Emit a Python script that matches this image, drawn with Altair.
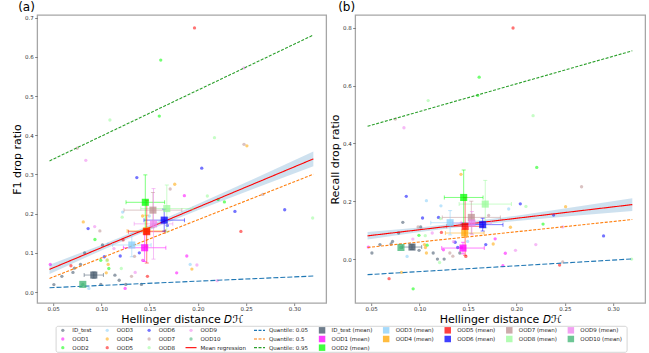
import altair as alt
import pandas as pd

FONT = "DejaVu Sans"

# ---------------- data ----------------
groups = ["ID_test", "OOD1", "OOD2", "OOD3", "OOD4", "OOD5", "OOD6", "OOD7", "OOD8", "OOD9", "OOD10"]
group_colors = ["#3d5166", "#ff00ff", "#00ff00", "#87cefa", "#ffa500", "#ff0000",
                "#0000ff", "#bc8f8f", "#98fb98", "#ee82ee", "#3cb371"]

pts_x = {
    "ID_test": [0.0507, 0.0590, 0.0705, 0.0720, 0.0783, 0.0826, 0.0994, 0.1011, 0.1140, 0.1184, 0.1253, 0.1415],
    "OOD1": [0.0470, 0.1246, 0.1430, 0.1780, 0.1860, 0.1885],
    "OOD2": [0.0933, 0.0993, 0.1077, 0.1615, 0.1600, 0.2210, 0.2275],
    "OOD3": [0.0870, 0.1070, 0.1220, 0.1920, 0.1496],
    "OOD4": [0.0812, 0.1050, 0.1060, 0.1070, 0.1427, 0.1760, 0.1938, 0.2508],
    "OOD5": [0.0684, 0.1225, 0.1477, 0.1965, 0.2446],
    "OOD6": [0.0862, 0.1030, 0.1195, 0.1367, 0.1393, 0.1683, 0.2040, 0.2384, 0.2900],
    "OOD7": [0.0749, 0.0984, 0.1312, 0.1343, 0.1713, 0.2478, 0.2673],
    "OOD8": [0.1088, 0.1058, 0.1206, 0.1215, 0.2172, 0.2098, 0.3190],
    "OOD9": [0.0838, 0.0930, 0.1130, 0.1350, 0.1430, 0.1990, 0.2200, 0.2478],
    "OOD10": [0.0807],
}
pts_f1 = {
    "ID_test": [0.019, 0.040, 0.050, 0.061, 0.0705, 0.100, 0.0195, 0.120, 0.043, 0.030, 0.0195, 0.0195],
    "OOD1": [0.0705, 0.0093, 0.081, 0.049, 0.246, 0.092],
    "OOD2": [0.134, 0.081, 0.060, 0.592, 0.449, 0.236, 0.230],
    "OOD3": [0.0093, 0.122, 0.204, 0.0705, 0.194],
    "OOD4": [0.179, 0.049, 0.082, 0.0705, 0.194, 0.275, 0.0586, 0.373],
    "OOD5": [0.067, 0.133, 0.040, 0.674, 0.1546],
    "OOD6": [0.162, 0.090, 0.092, 0.292, 0.100, 0.170, 0.316, 0.2056, 0.2099],
    "OOD7": [0.367, 0.156, 0.040, 0.091, 0.263, 0.377, 0.249],
    "OOD8": [0.439, 0.080, 0.060, 0.191, 0.394, 0.245, 0.189],
    "OOD9": [0.336, 0.167, 0.111, 0.050, 0.081, 0.069, 0.029, 0.572],
    "OOD10": [0.0195],
}
pts_rec = {
    "ID_test": [0.021, 0.050, 0.052, 0.061, 0.090, 0.127, 0.030, 0.111, 0.021, 0.0, 0.0, 0.021],
    "OOD1": [0.0415, 0.032, 0.040, 0.070, -0.023, 0.020],
    "OOD2": [-0.103, 0.082, 0.048, 0.629, 0.566, 0.317, 0.121],
    "OOD3": [0.009, 0.202, 0.184, 0.173, 0.061],
    "OOD4": [-0.046, 0.050, 0.040, 0.021, 0.293, 0.052, 0.110, 0.181],
    "OOD5": [-0.068, 0.092, 0.009, 0.799, -0.021],
    "OOD6": [0.217, 0.142, 0.144, 0.058, 0.040, 0.050, 0.191, 0.152, 0.080],
    "OOD7": [0.484, 0.111, 0.021, 0.010, 0.151, -0.010, 0.250],
    "OOD8": [0.548, 0.081, -0.012, 0.140, 0.496, 0.182, 0.0],
    "OOD9": [0.454, 0.069, 0.090, 0.060, 0.125, 0.030, 0.050, 0.111],
    "OOD10": [0.040],
}

# group means with error bars
mean_x = [0.0921, 0.1448, 0.1455, 0.1315, 0.1466, 0.1470, 0.1651, 0.1534, 0.1678, 0.1540, 0.0807]
mean_xerr = [0.0100, 0.022, 0.020, 0.020, 0.020, 0.019, 0.021, 0.030, 0.027, 0.020, 0.0]
f1_mean = [0.0433, 0.113, 0.229, 0.120, 0.156, 0.154, 0.1835, 0.209, 0.213, 0.174, 0.0195]
f1_err = [0.008, 0.035, 0.070, 0.030, 0.040, 0.080, 0.028, 0.045, 0.060, 0.090, 0.0]
rec_mean = [0.0415, 0.038, 0.213, 0.1256, 0.090, 0.113, 0.119, 0.144, 0.190, 0.1245, 0.040]
rec_err = [0.008, 0.020, 0.095, 0.042, 0.015, 0.100, 0.022, 0.056, 0.082, 0.040, 0.0]

# regression / quantile lines (values at both ends of the fitted x range)
line_names = ["Mean regression", "Quantile: 0.05", "Quantile: 0.5", "Quantile: 0.95"]
line_colors = ["#ff0000", "#1f77b4", "#ff7f0e", "#2ca02c"]
line_x = [0.0462, 0.3197]
f1_line_start = [0.0578, 0.0110, 0.0348, 0.3347]
f1_line_end = [0.3398, 0.0408, 0.3006, 0.6558]
rec_line_start = [0.0802, -0.0540, 0.0400, 0.4590]
rec_line_end = [0.1883, 0.0004, 0.1368, 0.7202]

# confidence band of the mean regression
band_x = [0.0462, 0.10, 0.14, 0.20, 0.26, 0.3197]
f1_band_lo = [0.0458, 0.1063, 0.1485, 0.2084, 0.2653, 0.3208]
f1_band_hi = [0.0698, 0.1203, 0.1605, 0.2244, 0.2913, 0.3588]
rec_band_lo = [0.0672, 0.0935, 0.1103, 0.1320, 0.1497, 0.1663]
rec_band_hi = [0.0932, 0.1095, 0.1243, 0.1500, 0.1797, 0.2103]

x_ticks = [0.05, 0.10, 0.15, 0.20, 0.25, 0.30]

# ---------------- tables ----------------
rows = []
for g in groups:
    for xv, f, r in zip(pts_x[g], pts_f1[g], pts_rec[g]):
        rows.append({"group": g, "x": xv, "f1": f, "rec": r})
points_df = pd.DataFrame(rows)

cscale = alt.Scale(domain=groups, range=group_colors)
dscale = alt.Scale(domain=line_names, range=[[1, 0], [5, 2], [3, 1.5], [3, 1.5]])

TICK_C = "#666666"
LAB_C = "#333333"


def panel(metric, ytitle, ydom, yvals, tag, ls, le, blo, bhi, ym, ye, width):
    xs = alt.Scale(domain=[0.0334, 0.333], nice=False, zero=False)
    ys = alt.Scale(domain=ydom, nice=False, zero=False)
    xax = alt.Axis(values=x_ticks, format=".2f", title="Hellinger distance 𝐷ℋ")
    yax = alt.Axis(values=yvals, format=".1f", title=ytitle)
    X = lambda f: alt.X(f, type="quantitative", scale=xs, axis=xax)
    Y = lambda f: alt.Y(f, type="quantitative", scale=ys, axis=yax)

    pdf = points_df.rename(columns={metric: "y"})[["group", "x", "y"]]
    pts = alt.Chart(pdf).mark_circle(size=11, opacity=0.55).encode(
        x=X("x"), y=Y("y"), color=alt.Color("group:N", scale=cscale, legend=None))

    bdf = pd.DataFrame({"x": band_x, "y": blo, "y2": bhi})
    band = alt.Chart(bdf).mark_area(color="#1f77b4", opacity=0.22).encode(
        x=X("x"), y=Y("y"), y2="y2")

    lrows = []
    for n, c, a, b in zip(line_names, line_colors, ls, le):
        lrows.append({"name": n, "lc": c, "x": line_x[0], "y": a})
        lrows.append({"name": n, "lc": c, "x": line_x[1], "y": b})
    ldf = pd.DataFrame(lrows)
    lines = alt.Chart(ldf).mark_line(strokeWidth=1.1).encode(
        x=X("x"), y=Y("y"),
        stroke=alt.Stroke("lc:N", scale=None),
        strokeDash=alt.StrokeDash("name:N", scale=dscale, legend=None),
        detail="name:N")

    mdf = pd.DataFrame({"group": groups, "x": mean_x, "y": ym,
                        "xlo": [a - b for a, b in zip(mean_x, mean_xerr)],
                        "xhi": [a + b for a, b in zip(mean_x, mean_xerr)],
                        "ylo": [a - b for a, b in zip(ym, ye)],
                        "yhi": [a + b for a, b in zip(ym, ye)],
                        "ex": mean_xerr, "ey": ye})
    col = alt.Color("group:N", scale=cscale, legend=None)
    mc = alt.Chart(mdf)
    hbar = mc.transform_filter("datum.ex > 0").mark_rule(strokeWidth=1, opacity=0.5).encode(
        x=X("xlo"), x2="xhi", y=Y("y"), color=col)
    vbar = mc.transform_filter("datum.ey > 0").mark_rule(strokeWidth=1, opacity=0.5).encode(
        x=X("x"), y=Y("ylo"), y2="yhi", color=col)
    tk = dict(thickness=1, opacity=0.5, size=4)
    capl = mc.transform_filter("datum.ex > 0").mark_tick(orient="vertical", **tk).encode(
        x=X("xlo"), y=Y("y"), color=col)
    capr = mc.transform_filter("datum.ex > 0").mark_tick(orient="vertical", **tk).encode(
        x=X("xhi"), y=Y("y"), color=col)
    capb = mc.transform_filter("datum.ey > 0").mark_tick(orient="horizontal", **tk).encode(
        x=X("x"), y=Y("ylo"), color=col)
    capt = mc.transform_filter("datum.ey > 0").mark_tick(orient="horizontal", **tk).encode(
        x=X("x"), y=Y("yhi"), color=col)
    sq = mc.mark_square(size=50, opacity=0.75).encode(x=X("x"), y=Y("y"), color=col)

    return alt.layer(pts, band, lines, hbar, vbar, capl, capr, capb, capt, sq).properties(
        width=width, height=288,
        title=alt.TitleParams(tag, anchor="start", frame="group", fontSize=12,
                              fontWeight="normal", offset=-1, dy=-2,
                              dx=-19 if tag == "(a)" else -17, color="#000000"))


pa = panel("f1", "F1 drop ratio", [-0.028, 0.707], [0, 0.1, 0.2, 0.3, 0.4, 0.5, 0.6, 0.7], "(a)",
           f1_line_start, f1_line_end, f1_band_lo, f1_band_hi, f1_mean, f1_err, 289)
pb = panel("rec", "Recall drop ratio", [-0.152, 0.844], [0, 0.2, 0.4, 0.6, 0.8], "(b)",
           rec_line_start, rec_line_end, rec_band_lo, rec_band_hi, rec_mean, rec_err, 290)

# ---------------- legend (matplotlib-style, 10 columns) ----------------
leg_labels = groups + line_names + [g + " (mean)" for g in groups]
leg_kind = ["point"] * 11 + ["solid", "dash", "dash", "dash"] + ["square"] * 11
leg_colors = group_colors + line_colors + group_colors

EM = {"I": .295, "D": .770, "_": .5, "t": .392, "e": .615, "s": .521, "O": .787, " ": .318,
      "(": .390, ")": .390, "m": .974, "a": .613, "n": .634, "M": .863, "r": .411, "g": .635,
      "i": .278, "o": .612, "Q": .787, "u": .634, "l": .278, ":": .337, ".": .318}


def text_w(s, fs=5.0):
    return sum(EM.get(ch, .636) for ch in s) * fs


n = len(leg_labels)
ncol = 10
nrow_small, nlarge = divmod(n, ncol)
cols, rws = [], []
for c in range(ncol):
    h = nrow_small + (1 if c < nlarge else 0)
    for r in range(h):
        cols.append(c)
        rws.append(r)
col_x = [7.0]
for c in range(ncol - 1):
    labs = [leg_labels[k] for k in range(n) if cols[k] == c]
    col_x.append(col_x[-1] + max(text_w(s) for s in labs) + 27)
LEG_W = 571
leg_df = pd.DataFrame({
    "label": leg_labels, "kind": leg_kind, "color": leg_colors,
    "row": rws, "hx": [col_x[c] for c in cols],
    "lx0": [col_x[c] - 5.5 for c in cols], "lx1": [col_x[c] + 5.5 for c in cols],
    "tx": [col_x[c] + 9.5 for c in cols],
})
LX = alt.Scale(domain=[0, LEG_W], nice=False, zero=False)
LY = alt.Scale(domain=[-0.5, 2.5], nice=False, zero=False, reverse=True)
lbase = alt.Chart(leg_df)
lx = lambda f: alt.X(f, type="quantitative", scale=LX, axis=None)
ly = alt.Y("row:Q", scale=LY, axis=None)
lc = alt.Color("color:N", scale=None)
leg = alt.layer(
    lbase.transform_filter("datum.kind == 'point'").mark_circle(size=11, opacity=0.55).encode(x=lx("hx"), y=ly, color=lc),
    lbase.transform_filter("datum.kind == 'square'").mark_square(size=42, opacity=0.75).encode(x=lx("hx"), y=ly, color=lc),
    lbase.transform_filter("datum.kind == 'solid'").mark_rule(strokeWidth=1.1).encode(x=lx("lx0"), x2="lx1", y=ly, color=lc),
    lbase.transform_filter("datum.kind == 'dash'").mark_rule(strokeWidth=1.1, strokeDash=[3, 1.5]).encode(x=lx("lx0"), x2="lx1", y=ly, color=lc),
    lbase.mark_text(align="left", baseline="middle", fontSize=5.5, color="#222222", font=FONT).encode(
        x=lx("tx"), y=ly, text="label:N"),
).properties(width=LEG_W, height=26,
             view=alt.ViewBackground(stroke="#cccccc", strokeWidth=0.8, cornerRadius=2))

chart = alt.vconcat(
    alt.hconcat(pa, pb, spacing=1),
    leg, spacing=0, center=True,
).properties(
    padding={"left": 10, "top": 0, "right": 0, "bottom": 0},
    background="#ffffff",
).configure(font=FONT).configure_view(
    stroke="#a6a6a6", strokeWidth=1.3
).configure_axis(
    grid=False, domain=False, tickSize=2.5, tickColor=TICK_C, tickWidth=0.8,
    labelFontSize=5.5, labelColor=LAB_C, labelPadding=1.5, labelFont=FONT,
    titleFontSize=11, titleFontWeight="normal", titleColor="#000000", titleFont=FONT,
).configure_axisX(titlePadding=1.8, labelPadding=0.5).configure_axisY(titlePadding=2)

chart.save("out.html", embed_options={"renderer": "svg", "actions": False})
